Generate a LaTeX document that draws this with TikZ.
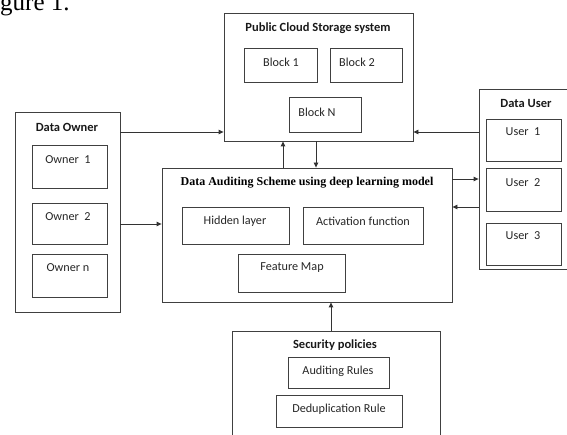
\documentclass[tikz,border=0pt]{standalone}
\usepackage{fontspec}
\setmainfont{Carlito}
\newfontfamily\tnr{Liberation Serif}
\usetikzlibrary{arrows.meta,calc}
\begin{document}
\begin{tikzpicture}[x=1pt,y=-1pt,
  box/.style={draw=black!75, line width=0.85pt, inner sep=0pt},
  lbl/.style={font=\fontsize{12.2}{14}\selectfont, text=black!85, inner sep=0pt},
  ttl/.style={font=\bfseries\fontsize{12.5}{14}\selectfont, text=black!90, inner sep=0pt},
  arr/.style={draw=black!80, line width=0.85pt, -{Triangle[length=5pt,width=4.5pt]}}]
\useasboundingbox (0,0) rectangle (567,435);
\clip (0,0) rectangle (567,435);
% caption fragment
\node[font=\tnr\fontsize{25}{28}\selectfont, anchor=base west, inner sep=0pt] (cap) at (0,11) {gure 1.};
% Public cloud storage
\node[box, minimum width=189pt, minimum height=128pt] (cloud) at (318.5,77) {};
\node[ttl] (cloudt) at (318,28) {Public Cloud Storage system};
\node[box, minimum width=73pt, minimum height=34pt] (b1) at (280.5,65) {};
\node[lbl] (b1t) at (281,62) {Block 1};
\node[box, minimum width=72pt, minimum height=34pt] (b2) at (366,65) {};
\node[lbl] (b2t) at (357,62) {Block 2};
\node[box, minimum width=72pt, minimum height=35pt] (bn) at (325,114.5) {};
\node[lbl] (bnt) at (317,112) {Block N};
% Data owner
\node[box, minimum width=105pt, minimum height=200pt] (owner) at (67.5,212) {};
\node[ttl] (ownert) at (67,127) {Data Owner};
\node[box, minimum width=75pt, minimum height=43pt] (o1) at (69.5,166.5) {};
\node[lbl] (o1t) at (68,160) {Owner\ \ 1};
\node[box, minimum width=75pt, minimum height=41pt] (o2) at (69.5,223.5) {};
\node[lbl] (o2t) at (68,217) {Owner\ \ 2};
\node[box, minimum width=75pt, minimum height=43pt] (on) at (69.5,275.5) {};
\node[lbl] (ont) at (68,268) {Owner n};
% Data user (right side cut off)
\node[box, minimum width=100pt, minimum height=180pt] (user) at (529,179) {};
\node[ttl] (usert) at (526,103) {Data User};
\node[box, minimum width=75pt, minimum height=42pt] (u1) at (523.5,140) {};
\node[lbl] (u1t) at (523,132) {User\ \ 1};
\node[box, minimum width=75pt, minimum height=43pt] (u2) at (523.5,189.5) {};
\node[lbl] (u2t) at (523,183) {User\ \ 2};
\node[box, minimum width=75pt, minimum height=42pt] (u3) at (523.5,244) {};
\node[lbl] (u3t) at (523,236) {User\ \ 3};
% Auditing scheme
\node[box, minimum width=290pt, minimum height=134pt] (aud) at (307,235) {};
\node[font=\tnr\bfseries\fontsize{12}{14}\selectfont, inner sep=0pt] (audt) at (307,183) {Data Auditing Scheme using deep learning model};
\node[box, minimum width=107pt, minimum height=37pt] (hid) at (235.5,225.5) {};
\node[lbl] (hidt) at (235,221) {Hidden layer};
\node[box, minimum width=120pt, minimum height=37pt] (act) at (363,225.5) {};
\node[lbl] (actt) at (363,221) {Activation function};
\node[box, minimum width=107pt, minimum height=38pt] (feat) at (291.5,273) {};
\node[lbl] (featt) at (292,268) {Feature Map};
% Security policies (bottom cut off)
\node[box, minimum width=208pt, minimum height=110pt] (sec) at (336,386) {};
\node[ttl] (sect) at (335,345) {Security policies};
\node[box, minimum width=101pt, minimum height=31pt] (ar) at (338.5,372.5) {};
\node[lbl] (art) at (338,371) {Auditing Rules};
\node[box, minimum width=126pt, minimum height=32pt] (dd) at (339,411) {};
\node[lbl] (ddt) at (339,409) {Deduplication Rule};
% connectors
\coordinate (p1) at (owner.east |- 0,132);
\draw[arr] (p1) -- (p1 -| cloud.west);
\coordinate (p2) at (user.west |- 0,132);
\draw[arr] (p2) -- (p2 -| cloud.east);
\coordinate (p3) at (283,0 |- aud.north);
\draw[arr] (p3) -- (p3 |- cloud.south);
\coordinate (p4) at (316,0 |- cloud.south);
\draw[arr] (p4) -- (p4 |- aud.north);
\coordinate (p5) at (owner.east |- 0,224);
\draw[arr] (p5) -- (p5 -| aud.west);
\coordinate (p6) at (aud.east |- 0,179);
\draw[arr] (p6) -- (p6 -| user.west);
\coordinate (p7) at (user.west |- 0,207);
\draw[arr] (p7) -- (p7 -| aud.east);
\coordinate (p8) at (331,0 |- sec.north);
\draw[arr] (p8) -- (p8 |- aud.south);
\end{tikzpicture}
\end{document}
